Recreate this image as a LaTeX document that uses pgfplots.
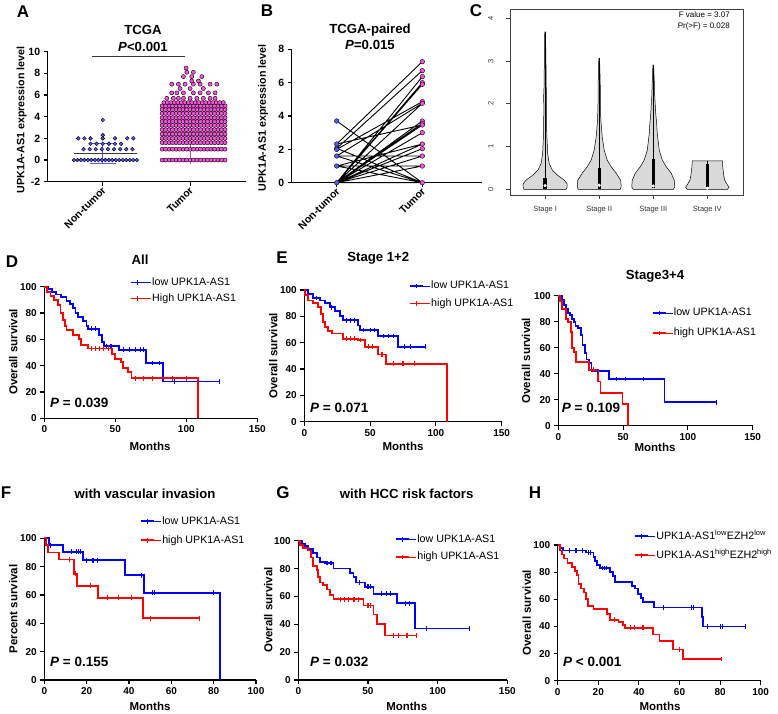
\documentclass[border=0pt]{standalone}
\usepackage{fontspec}
\setmainfont{Liberation Sans}
\usepackage{pgfplots}
\pgfplotsset{compat=1.18}
\definecolor{ptblue}{RGB}{85,90,250}
\definecolor{ptpink}{RGB}{248,80,220}
\definecolor{vgray}{RGB}{217,217,217}
\definecolor{mline}{RGB}{55,55,55}
\pgfplotsset{
  gp/.style={scale only axis, axis lines=left, axis line style={-, line width=1.3pt, black},
    every tick/.style={black, line width=1.1pt}, tick align=outside, major tick length=4pt,
    /pgf/number format/assume math mode=true,
    tick label style={font=\fontsize{10}{10}\selectfont\bfseries}, clip=false},
  km/.style={gp, ymin=0, ymax=100, ytick={0,20,40,60,80,100}, xmin=0,
    legend cell align=left,
    legend style={draw=none, fill=none, inner sep=0pt, anchor=north west,
      font=\fontsize{10.7}{12}\selectfont,
      nodes={inner sep=1pt, text height=8pt, text depth=2pt}}},
  kmb/.style={draw=blue, color=blue, line width=1.8pt, const plot, mark=none, forget plot},
  kmr/.style={draw=red, color=red, line width=1.8pt, const plot, mark=none, forget plot},
  cb/.style={color=blue, only marks, mark=|, mark size=2.4pt, mark options={draw=blue, line width=1.1pt}, forget plot},
  cr/.style={color=red, only marks, mark=|, mark size=2.4pt, mark options={draw=red, line width=1.1pt}, forget plot},
  legb/.style={color=blue, legend image code/.code={\draw[draw=blue, line width=1.8pt] (0pt,0pt)--(13pt,0pt);
      \draw[draw=blue, line width=1.1pt] (6.5pt,-2.4pt)--(6.5pt,2.4pt); \path (0pt,0pt)--(20pt,0pt);}},
  legr/.style={color=red, legend image code/.code={\draw[draw=red, line width=1.8pt] (0pt,0pt)--(13pt,0pt);
      \draw[draw=red, line width=1.1pt] (6.5pt,-2.4pt)--(6.5pt,2.4pt); \path (0pt,0pt)--(20pt,0pt);}},
}
\newcommand{\plab}{\fontsize{17}{17}\selectfont\bfseries}
\newcommand{\ttl}{\fontsize{13.2}{14}\selectfont\bfseries}
\newcommand{\pval}{\fontsize{13.5}{14}\selectfont\bfseries}
\newcommand{\alab}{\fontsize{11.5}{12}\selectfont\bfseries}
\begin{document}
\begin{tikzpicture}[x=1pt,y=1pt]
\path[use as bounding box] (0,0) rectangle (778,713);

% ---------------- A ----------------
\begin{axis}[gp, at={(47.7pt,531.3pt)}, anchor=south west, width=198.3pt, height=130pt,
  xmin=0.37, xmax=2.64, ymin=-2, ymax=10, ytick={-2,0,2,4,6,8,10},
  xtick={1,2}, xticklabels={Non-tumor,Tumor},
  tick label style={font=\fontsize{10.5}{10.5}\selectfont\bfseries},
  xticklabel style={rotate=45, anchor=east, inner sep=1pt, yshift=-3pt}]
\addplot[only marks, mark=*, mark size=1.9pt, mark options={fill=ptblue, draw=none}] coordinates {
(0.67,0) (0.71,0) (0.75,0) (0.79,0) (0.83,0) (0.87,0) (0.91,0) (0.95,0) (0.99,0) (1.03,0)
(1.07,0) (1.11,0) (1.15,0) (1.19,0) (1.23,0) (1.27,0) (1.31,0) (1.35,0) (1.39,0)
(0.78,1) (0.85,1) (0.92,1) (0.99,1) (1.06,1) (1.13,1) (1.20,1) (1.27,1) (1.34,1)
(0.86,1.5) (0.93,1.5) (1.00,1.5) (1.07,1.5) (1.14,1.5) (1.21,1.5)
(0.72,2) (0.79,2) (0.86,2) (1.00,2) (1.14,2) (1.28,2) (1.35,2)
(1.0,2.3) (1.0,3.7)};
\addplot[only marks, mark=*, mark size=2.05pt, mark options={fill=ptpink, draw=none}] coordinates {
(1.68,0) (1.72,0) (1.76,0) (1.80,0) (1.84,0) (1.88,0) (1.92,0) (1.96,0) (2.00,0) (2.04,0) (2.08,0) (2.12,0) (2.16,0) (2.20,0) (2.24,0) (2.28,0) (2.32,0) (2.36,0) (2.40,0)
(1.68,1) (1.72,1) (1.76,1) (1.80,1) (1.84,1) (1.88,1) (1.92,1) (1.96,1) (2.00,1) (2.04,1) (2.08,1) (2.12,1) (2.16,1) (2.20,1) (2.24,1) (2.28,1) (2.32,1) (2.36,1) (2.40,1)
(1.68,1.6) (1.72,1.6) (1.76,1.6) (1.80,1.6) (1.84,1.6) (1.88,1.6) (1.92,1.6) (1.96,1.6) (2.00,1.6) (2.04,1.6) (2.08,1.6) (2.12,1.6) (2.16,1.6) (2.20,1.6) (2.24,1.6) (2.28,1.6) (2.32,1.6) (2.36,1.6) (2.40,1.6)
(1.68,2) (1.72,2) (1.76,2) (1.80,2) (1.84,2) (1.88,2) (1.92,2) (1.96,2) (2.00,2) (2.04,2) (2.08,2) (2.12,2) (2.16,2) (2.20,2) (2.24,2) (2.28,2) (2.32,2) (2.36,2) (2.40,2)
(1.68,2.4) (1.72,2.4) (1.76,2.4) (1.80,2.4) (1.84,2.4) (1.88,2.4) (1.92,2.4) (1.96,2.4) (2.00,2.4) (2.04,2.4) (2.08,2.4) (2.12,2.4) (2.16,2.4) (2.20,2.4) (2.24,2.4) (2.28,2.4) (2.32,2.4) (2.36,2.4) (2.40,2.4)
(1.68,2.8) (1.72,2.8) (1.76,2.8) (1.80,2.8) (1.84,2.8) (1.88,2.8) (1.92,2.8) (1.96,2.8) (2.00,2.8) (2.04,2.8) (2.08,2.8) (2.12,2.8) (2.16,2.8) (2.20,2.8) (2.24,2.8) (2.28,2.8) (2.32,2.8) (2.36,2.8) (2.40,2.8)
(1.68,3.2) (1.72,3.2) (1.76,3.2) (1.80,3.2) (1.84,3.2) (1.88,3.2) (1.92,3.2) (1.96,3.2) (2.00,3.2) (2.04,3.2) (2.08,3.2) (2.12,3.2) (2.16,3.2) (2.20,3.2) (2.24,3.2) (2.28,3.2) (2.32,3.2) (2.36,3.2) (2.40,3.2)
(1.68,3.55) (1.72,3.55) (1.76,3.55) (1.80,3.55) (1.84,3.55) (1.88,3.55) (1.92,3.55) (1.96,3.55) (2.00,3.55) (2.04,3.55) (2.08,3.55) (2.12,3.55) (2.16,3.55) (2.20,3.55) (2.24,3.55) (2.28,3.55) (2.32,3.55) (2.36,3.55) (2.40,3.55)
(1.68,3.9) (1.72,3.9) (1.76,3.9) (1.80,3.9) (1.84,3.9) (1.88,3.9) (1.92,3.9) (1.96,3.9) (2.00,3.9) (2.04,3.9) (2.08,3.9) (2.12,3.9) (2.16,3.9) (2.20,3.9) (2.24,3.9) (2.28,3.9) (2.32,3.9) (2.36,3.9) (2.40,3.9)
(1.68,4.3) (1.72,4.3) (1.76,4.3) (1.80,4.3) (1.84,4.3) (1.88,4.3) (1.92,4.3) (1.96,4.3) (2.00,4.3) (2.04,4.3) (2.08,4.3) (2.12,4.3) (2.16,4.3) (2.20,4.3) (2.24,4.3) (2.28,4.3) (2.32,4.3) (2.36,4.3) (2.40,4.3)
(1.68,4.65) (1.72,4.65) (1.76,4.65) (1.80,4.65) (1.84,4.65) (1.88,4.65) (1.92,4.65) (1.96,4.65) (2.00,4.65) (2.04,4.65) (2.08,4.65) (2.12,4.65) (2.16,4.65) (2.20,4.65) (2.24,4.65) (2.28,4.65) (2.32,4.65) (2.36,4.65) (2.40,4.65)
(1.68,5) (1.72,5) (1.76,5) (1.80,5) (1.84,5) (1.88,5) (1.92,5) (1.96,5) (2.00,5) (2.04,5) (2.08,5) (2.12,5) (2.16,5) (2.20,5) (2.24,5) (2.28,5) (2.32,5) (2.36,5) (2.40,5)
(1.70,5.3) (1.74,5.3) (1.78,5.3) (1.82,5.3) (1.86,5.3) (1.90,5.3) (1.94,5.3) (1.98,5.3) (2.02,5.3) (2.06,5.3) (2.10,5.3) (2.14,5.3) (2.18,5.3) (2.22,5.3) (2.26,5.3) (2.30,5.3) (2.34,5.3) (2.38,5.3)
(1.733,5.7) (1.809,5.7) (1.866,5.7) (1.924,5.7) (2.0,5.7) (2.077,5.7) (2.152,5.7) (2.229,5.7) (2.286,5.7)
(1.790,6.2) (1.848,6.2) (1.924,6.2) (2.038,6.2) (2.115,6.2) (2.210,6.2) (2.286,6.2)
(1.885,6.6) (2.0,6.6) (2.152,6.6)
(1.790,7.0) (1.866,7.0) (1.943,7.0) (2.038,7.0) (2.115,7.0) (2.229,7.0) (2.306,7.0)
(2.019,7.3) (2.095,7.3) (1.924,7.7) (2.019,7.7) (2.134,7.7) (1.962,8.1) (2.038,8.1) (1.954,8.5)};
\addplot[ptblue, line width=1.1pt] coordinates {(1,-0.3) (1,1.5)};
\addplot[ptblue, line width=1.1pt] coordinates {(0.85,1.5) (1.15,1.5)};
\addplot[ptblue, line width=1.1pt] coordinates {(0.85,-0.3) (1.15,-0.3)};
\addplot[ptpink!85!black, line width=1.1pt] coordinates {(2,-0.4) (2,4.3)};
\addplot[ptpink!85!black, line width=1.1pt] coordinates {(1.85,4.3) (2.15,4.3)};
\addplot[mline, line width=1.5pt] coordinates {(0.67,0.6) (1.39,0.6)};
\addplot[mline, line width=1.5pt] coordinates {(1.68,1.95) (2.40,1.95)};
\addplot[mline, line width=1.4pt] coordinates {(0.874,9.55) (1.943,9.55)};
\end{axis}

% ---------------- B ----------------
\begin{axis}[gp, at={(291.7pt,530.3pt)}, anchor=south west, width=190pt, height=133.4pt,
  xmin=0.474, xmax=2.694, ymin=0, ymax=8, ytick={0,2,4,6,8},
  xtick={1,2}, xticklabels={Non-tumor,Tumor},
  tick label style={font=\fontsize{10.5}{10.5}\selectfont\bfseries},
  xticklabel style={rotate=45, anchor=east, inner sep=1pt, yshift=-3pt}]
\addplot[black, line width=0.9pt, unbounded coords=jump] coordinates {
(1,3.7) (2,0) (1,nan) (1,2.32) (2,7.26) (1,nan) (1,2.06) (2,6.72) (1,nan) (1,2.0) (2,4.86) (1,nan)
(1,2.06) (2,0) (1,nan) (1,2.32) (2,3.46) (1,nan) (1,1.6) (2,1.6) (1,nan) (1,1.6) (2,0) (1,nan)
(1,1.6) (2,4.76) (1,nan) (1,1.0) (2,1.0) (1,nan) (1,1.0) (2,0) (1,nan) (1,0) (2,6.36) (1,nan)
(1,0) (2,6.0) (1,nan) (1,0) (2,5.9) (1,nan) (1,0) (2,4.76) (1,nan) (1,0) (2,3.7) (1,nan)
(1,0) (2,3.56) (1,nan) (1,0) (2,3.46) (1,nan) (1,0) (2,3.0) (1,nan) (1,0) (2,2.32) (1,nan)
(1,0) (2,2.04) (1,nan) (1,0) (2,1.6) (1,nan) (1,0) (2,1.0) (1,nan) (1,1.0) (2,2.32) (1,nan) (1,0) (2,0)};
\addplot[only marks, mark=*, mark size=2.3pt, mark options={fill=ptblue, draw=none}] coordinates {
(1,3.7) (1,2.32) (1,2.06) (1,2.0) (1,1.6) (1,1.0) (1,0)};
\addplot[only marks, mark=*, mark size=2.3pt, mark options={fill=ptpink, draw=none}] coordinates {
(2,7.26) (2,6.72) (2,6.36) (2,6.0) (2,5.9) (2,4.86) (2,4.76) (2,3.7) (2,3.56) (2,3.46) (2,3.0)
(2,2.32) (2,2.04) (2,1.6) (2,1.0) (2,0)};
\end{axis}

% ---------------- C ----------------
\begin{axis}[at={(510pt,518pt)}, anchor=south west, scale only axis, width=233pt, height=185.7pt,
  xmin=0.35, xmax=4.66, ymin=-0.14, ymax=4.21,
  axis line style={draw=black!75, line width=0.6pt},
  xtick={1,2,3,4}, xticklabels={Stage I,Stage II,Stage III,Stage IV}, ytick={0,1,2,3,4},
  tick pos=left, tick align=outside, major tick length=4pt,
  every tick/.style={black!75, line width=0.5pt},
  /pgf/number format/assume math mode=true,
  tick label style={font=\fontsize{7.5}{7.5}\selectfont, text=black!80},
  yticklabel style={xshift=-9pt, rotate=90, anchor=south},
  xticklabel style={yshift=-4pt}]
\addplot[fill=vgray, draw=black, line width=0.5pt] coordinates {
(1.389,-0.01) (1.407,0.04) (1.407,0.12) (1.352,0.21) (1.222,0.33) (1.130,0.45) (1.074,0.6) (1.046,0.84)
(1.030,1.3) (1.024,1.9) (1.028,2.16) (1.020,2.4) (1.015,3.0) (1.007,3.68)
(0.993,3.68) (0.985,3.0) (0.980,2.4) (0.972,2.16) (0.976,1.9) (0.970,1.3) (0.954,0.84) (0.926,0.6)
(0.870,0.45) (0.778,0.33) (0.648,0.21) (0.593,0.12) (0.593,0.04) (0.611,-0.01)} -- cycle;
\addplot[fill=vgray, draw=black, line width=0.5pt] coordinates {
(2.389,-0.01) (2.407,0.05) (2.398,0.2) (2.315,0.37) (2.222,0.52) (2.148,0.68) (2.093,0.91) (2.056,1.22)
(2.030,1.62) (2.022,2.0) (2.019,2.48) (2.007,3.06)
(1.993,3.06) (1.981,2.48) (1.978,2.0) (1.970,1.62) (1.944,1.22) (1.907,0.91) (1.852,0.68) (1.778,0.52)
(1.685,0.37) (1.602,0.2) (1.593,0.05) (1.611,-0.01)} -- cycle;
\addplot[fill=vgray, draw=black, line width=0.5pt] coordinates {
(3.370,-0.01) (3.398,0.05) (3.389,0.2) (3.333,0.37) (3.241,0.52) (3.167,0.68) (3.111,0.91) (3.074,1.3)
(3.065,1.5) (3.046,1.77) (3.028,2.16) (3.019,2.5) (3.007,2.9)
(2.993,2.9) (2.981,2.5) (2.972,2.16) (2.954,1.77) (2.935,1.5) (2.926,1.3) (2.889,0.91) (2.833,0.68)
(2.759,0.52) (2.667,0.37) (2.611,0.2) (2.602,0.05) (2.630,-0.01)} -- cycle;
\addplot[fill=vgray, draw=black, line width=0.5pt] coordinates {
(4.370,-0.01) (4.402,0.04) (4.370,0.1) (4.324,0.2) (4.306,0.3) (4.287,0.5) (4.278,0.66)
(3.722,0.66) (3.713,0.5) (3.694,0.3) (3.676,0.2) (3.630,0.1) (3.598,0.04) (3.630,-0.01)} -- cycle;
\addplot[black, line width=0.7pt] coordinates {(1,0.26) (1,3.68)};
\addplot[black, line width=0.7pt] coordinates {(2,0.49) (2,3.06)};
\addplot[black, line width=0.7pt] coordinates {(3,0.70) (3,2.9)};
\addplot[black, line width=0.7pt] coordinates {(4,0.58) (4,0.66)};
\addplot[black, line width=3.3pt] coordinates {(1,0) (1,0.26)};
\addplot[black, line width=3.3pt] coordinates {(2,0) (2,0.49)};
\addplot[black, line width=3.3pt] coordinates {(3,0.02) (3,0.70)};
\addplot[black, line width=3.3pt] coordinates {(4,0.05) (4,0.58)};
\addplot[only marks, mark=*, mark size=1.4pt, mark options={fill=white, draw=white}] coordinates {
(1,0.08) (2,0.09) (3,0.07) (4,0.02)};
\end{axis}

% ---------------- D ----------------
\begin{axis}[km, at={(44.3pt,294.7pt)}, anchor=south west, width=213pt, height=131.6pt,
  xmax=150, xtick={0,50,100,150}, legend style={at={(0.402,1.079)}, row sep=4pt}]
\addlegendimage{legb}\addlegendentry{low UPK1A-AS1}
\addlegendimage{legr}\addlegendentry{High UPK1A-AS1}
\addplot[kmb] coordinates {(0,100) (3,98) (5.6,96) (8,94) (12,92) (15.7,89) (18.3,87) (20,84) (22,80) (24,77) (27,74) (29.7,70) (31,68) (38.6,63) (40.4,58) (42,55) (52.5,52) (71.6,42) (83.5,28) (123.6,28)};
\addplot[kmr] coordinates {(0,100) (1.8,96) (4.3,93) (6.9,90) (9.4,86) (11.4,80) (13.2,75) (14.5,70) (15.7,67) (20,63) (24.6,60) (25.9,56) (31,53) (47.5,49) (50,45) (53.8,43) (55.6,38) (58.9,35) (61.4,30.5) (108.4,0)};
\addplot[cb] coordinates {(33,68) (36,68) (44,55) (47,55) (56,52) (60,52) (64,52) (68,52) (70,52) (76,42) (81,42) (92,28) (123.6,28)};
\addplot[cr] coordinates {(33,53) (36,53) (39,53) (42,53) (45,53) (64,30.5) (70,30.5) (76,30.5) (90,30.5) (100,30.5)};
\end{axis}

% ---------------- E left ----------------
\begin{axis}[km, at={(304.3pt,291.3pt)}, anchor=south west, width=197.4pt, height=131.7pt,
  xmax=150, xtick={0,50,100,150}, legend style={at={(0.530,1.078)}, row sep=5.6pt}]
\addlegendimage{legb}\addlegendentry{low UPK1A-AS1}
\addlegendimage{legr}\addlegendentry{high UPK1A-AS1}
\addplot[kmb] coordinates {(0,100) (3,97) (6.8,94) (11.9,92) (15.7,90) (19.5,87) (23.3,84) (27,80) (29.6,77) (41,73) (42.3,69.6) (56.2,65) (71.4,57) (92.2,57)};
\addplot[kmr] coordinates {(0,100) (0.5,96) (3,92) (6.8,90) (10.6,87) (12.7,82) (14.4,76) (15.7,72) (18.2,69) (20.8,67) (29.6,63) (41,62) (46,57) (56.2,51) (61.8,44) (108.6,0)};
\addplot[cb] coordinates {(9,94) (21,87) (32,77) (35,77) (38,77) (45,69.6) (50,69.6) (53,69.6) (60,65) (64,65) (68,65) (76,57) (81,57) (92.2,57)};
\addplot[cr] coordinates {(32,63) (35,63) (38,63) (43,62) (49,57) (52,57) (59,51) (68,44) (75,44) (84,44)};
\end{axis}

% ---------------- E right ----------------
\begin{axis}[km, at={(558.3pt,287.3pt)}, anchor=south west, width=194.4pt, height=130pt,
  xmax=150, xtick={0,50,100,150}, legend style={at={(0.480,0.915)}, row sep=8pt}]
\addlegendimage{legb}\addlegendentry{low UPK1A-AS1}
\addlegendimage{legr}\addlegendentry{high UPK1A-AS1}
\addplot[kmb] coordinates {(0,100) (2.6,97) (4.4,93) (5.9,90) (7.7,87) (9,85) (10.3,82) (12,80) (13.3,77) (15.4,75) (17.2,70) (18.7,62) (20.5,56) (21.8,51) (23.8,48) (25.6,42) (39,36) (82,18) (121.8,18)};
\addplot[kmr] coordinates {(0,100) (1.3,96) (2.6,90) (5.9,82) (7.7,80) (9.5,72) (10.5,60) (12,57) (13.6,49) (23.8,43) (30.8,34) (32.6,25) (49.5,17) (53.8,0)};
\addplot[cb] coordinates {(30,42) (45,36) (52,36) (66,36) (121.8,18)};
\addplot[cr] coordinates {(27,43)};
\end{axis}

% ---------------- F ----------------
\begin{axis}[km, at={(44.3pt,33pt)}, anchor=south west, width=211.7pt, height=141.7pt,
  xmax=100, xtick={0,20,40,60,80,100}, legend style={at={(0.452,1.164)}, row sep=7pt}]
\addlegendimage{legb}\addlegendentry{low UPK1A-AS1}
\addlegendimage{legr}\addlegendentry{high UPK1A-AS1}
\addplot[kmb] coordinates {(0,100) (2.2,95) (8.7,90.5) (18.1,84.5) (38.1,74) (47.1,61.5) (83,0)};
\addplot[kmr] coordinates {(0,100) (0.8,95) (1.9,90) (7.1,85) (14,75) (15.6,66.5) (25.5,58) (46.5,43.5) (73.5,43.5)};
\addplot[cb] coordinates {(3,95) (13,90.5) (15,90.5) (16,90.5) (17,90.5) (20,84.5) (23,84.5) (25,84.5) (46,74) (51,61.5) (52,61.5) (80,61.5)};
\addplot[cr] coordinates {(12,85) (14.8,75) (22,66.5) (30,58) (35,58) (41,58) (50,43.5) (73.5,43.5)};
\end{axis}

% ---------------- G ----------------
\begin{axis}[km, at={(298.3pt,33pt)}, anchor=south west, width=209pt, height=139.3pt,
  xmax=150, xtick={0,50,100,150}, legend style={at={(0.463,1.055)}, row sep=5.7pt}]
\addlegendimage{legb}\addlegendentry{low UPK1A-AS1}
\addlegendimage{legr}\addlegendentry{high UPK1A-AS1}
\addplot[kmb] coordinates {(0,100) (2.4,98) (4.8,96) (7.2,94) (10.8,91) (13.2,88) (15.6,85) (19.2,84) (25.2,80) (37.2,77) (39.6,74) (41.2,70) (48,67) (54,62) (70.7,55) (83.5,37) (122.8,37)};
\addplot[kmr] coordinates {(0,100) (1.2,97) (3.6,95) (7.2,93) (9.1,88) (10.8,82) (13.2,79) (14.4,74) (15.6,70) (18,68) (20.4,65) (22.8,61) (25.2,58) (46.8,53.5) (54,47) (56.4,40) (62.4,32) (84.7,32)};
\addplot[cb] coordinates {(20,84) (21,84) (23,84) (24,84) (44,70) (50,67) (52,67) (60,62) (63,62) (66,62) (77,55) (80,55) (92,37) (122.8,37)};
\addplot[cr] coordinates {(30,58) (33,58) (36,58) (40,58) (43,58) (50,53.5) (52,53.5) (68,32) (72,32) (78,32) (84.7,32)};
\end{axis}

% ---------------- H ----------------
\begin{axis}[km, at={(557.7pt,32.3pt)}, anchor=south west, width=203pt, height=135.7pt,
  xmax=100, xtick={0,20,40,60,80,100}, legend style={at={(0.376,1.111)}, row sep=7pt}]
\addlegendimage{legb}\addlegendentry{UPK1A-AS1\textsuperscript{low}EZH2\textsuperscript{low}}
\addlegendimage{legr}\addlegendentry{UPK1A-AS1\textsuperscript{high}EZH2\textsuperscript{high}}
\addplot[kmb] coordinates {(0,100) (1.1,98) (2.8,96) (14,94.5) (17.6,91) (18.4,88) (19.5,85) (20.9,83) (25.8,80) (27.1,77) (28.2,73) (36.5,70) (38.1,68) (39.7,64) (40.9,61) (41.9,58) (47.5,54) (70.9,47) (71.4,40) (92.3,40)};
\addplot[kmr] coordinates {(0,100) (1.1,96) (2,93) (3.1,90) (4.8,87) (6.9,84) (8.5,81) (9.4,78) (10.2,71) (11.3,68) (13,65) (14,60) (15.1,55) (17.6,53) (24.1,49) (25.8,45) (29.9,43) (32.3,41) (33.2,39) (47.1,34) (50.1,29) (56.7,23) (61.9,16) (80.8,16)};
\addplot[cb] coordinates {(6,96) (9,96) (12,96) (15,94.5) (16,94.5) (22,83) (23,83) (24,83) (52,54) (66,54) (67,54) (74,40) (80,40) (81,40) (92.3,40)};
\addplot[cr] coordinates {(28,45) (36,39) (38,39) (42,39) (60,23) (80.8,16)};
\end{axis}

% ---------------- texts ----------------
\node[font=\plab] at (23,701) {A};
\node[font=\plab] at (267,702) {B};
\node[font=\plab] at (476,702) {C};
\node[font=\plab] at (12,451) {D};
\node[font=\plab] at (282,455) {E};
\node[font=\plab] at (6,220) {F};
\node[font=\plab] at (283,220) {G};
\node[font=\plab] at (535,220) {H};

\node[font=\ttl] at (143,683) {TCGA};
\node[font=\ttl] at (143,666.3) {{\itshape P}<0.001};
\node[font=\ttl] at (370,683) {TCGA-paired};
\node[font=\ttl] at (370,668) {{\itshape P}=0.015};
\node[font=\ttl] at (140,453) {All};
\node[font=\ttl] at (378.3,454.7) {Stage 1+2};
\node[font=\ttl] at (655,436.3) {Stage3+4};
\node[font=\ttl] at (145,219.7) {with vascular invasion};
\node[font=\ttl] at (406.7,219.7) {with HCC risk factors};

\node[font=\fontsize{8}{8}\selectfont, anchor=east, inner sep=0pt] at (730,698) {F value = 3.07};
\node[font=\fontsize{8}{8}\selectfont, anchor=east, inner sep=0pt] at (730,687) {Pr(>F) = 0.028};

\node[font=\pval, anchor=west, inner sep=0pt] at (50,310.3) {{\itshape P} = 0.039};
\node[font=\pval, anchor=west, inner sep=0pt] at (310,305.3) {{\itshape P} = 0.071};
\node[font=\pval, anchor=west, inner sep=0pt] at (561.7,304.7) {{\itshape P} = 0.109};
\node[font=\pval, anchor=west, inner sep=0pt] at (50,51.3) {{\itshape P} = 0.155};
\node[font=\pval, anchor=west, inner sep=0pt] at (310,51.3) {{\itshape P} = 0.032};
\node[font=\pval, anchor=west, inner sep=0pt] at (563,51.3) {{\itshape P} < 0.001};

\node[font=\fontsize{10.7}{11}\selectfont\bfseries, rotate=90] at (21.7,593) {UPK1A-AS1 expression level};
\node[font=\fontsize{10.7}{11}\selectfont\bfseries, rotate=90] at (263,595) {UPK1A-AS1 expression level};
\node[font=\alab, rotate=90] at (13.3,361) {Overall survival};
\node[font=\alab, rotate=90] at (273.3,357.2) {Overall survival};
\node[font=\alab, rotate=90] at (526,352.3) {Overall survival};
\node[font=\alab, rotate=90] at (13.3,104) {Percent survival};
\node[font=\alab, rotate=90] at (268.3,103) {Overall survival};
\node[font=\alab, rotate=90] at (526.7,100.2) {Overall survival};

\node[font=\alab, inner sep=1pt] at (150,267) {Months};
\node[font=\alab, inner sep=1pt] at (403,267) {Months};
\node[font=\alab, inner sep=1pt] at (655,266) {Months};
\node[font=\alab, inner sep=1pt] at (150,6.5) {Months};
\node[font=\alab, inner sep=1pt] at (406.7,6.5) {Months};
\node[font=\alab, inner sep=1pt] at (660,6.5) {Months};
\end{tikzpicture}
\end{document}
